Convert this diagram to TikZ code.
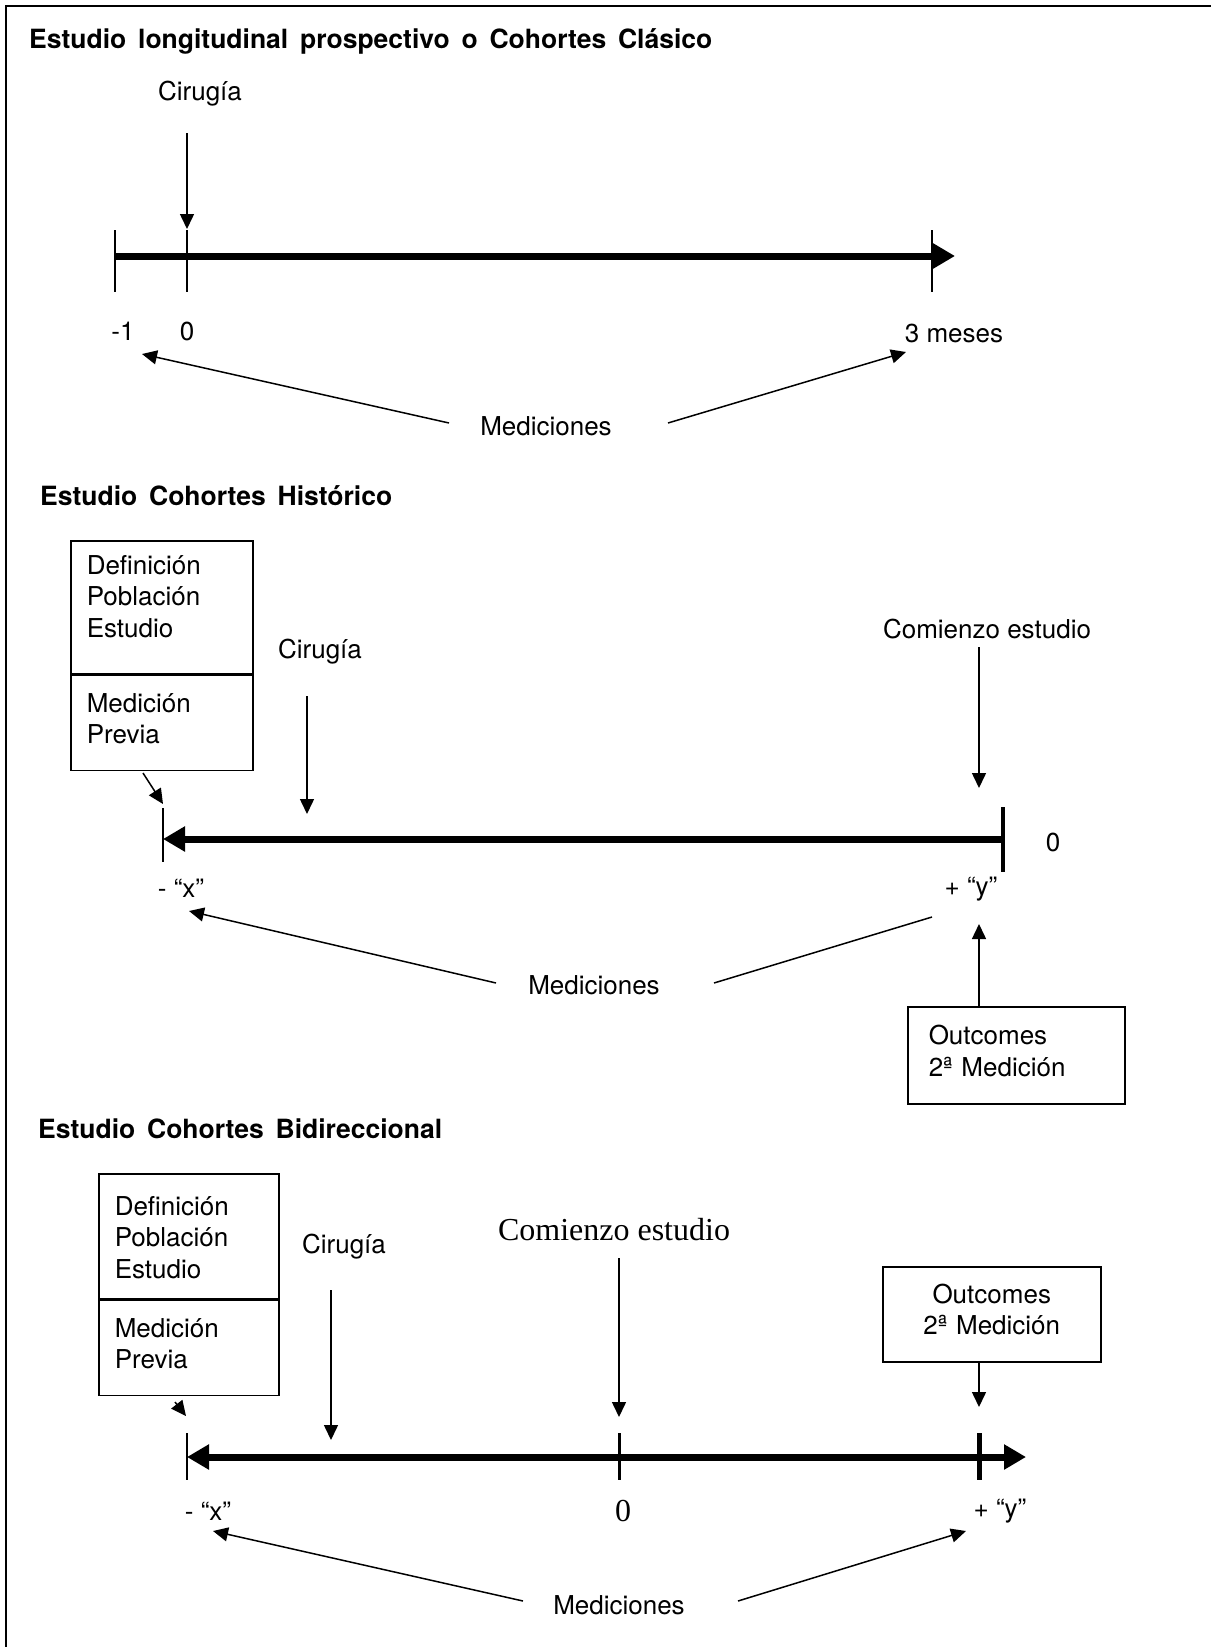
\documentclass[tikz,border=0pt]{standalone}
\usepackage{fontspec}
\setmainfont{TeX Gyre Heros}
\newfontfamily\timesfont{Liberation Serif}
\newfontfamily\titlefont[WordSpace=1.6]{TeX Gyre Heros}
\usetikzlibrary{arrows.meta,positioning}

\begin{document}
\begin{tikzpicture}[x=1pt, y=-1pt,
   every node/.style={font=\fontsize{26}{31.5}\selectfont, inner sep=0pt},
   title/.style={font=\titlefont\fontsize{26.5}{30}\selectfont\bfseries, anchor=west},
   serif/.style={font=\fontsize{32}{38}\selectfont\timesfont},
   thin/.style={line width=1.5pt, -{Triangle[length=15pt,width=14pt]}},
   axis/.style={line width=7pt},
   bighead/.tip={Triangle[length=22pt,width=24pt]},
   tick/.style={line width=1.5pt},
   partbox/.style={draw, line width=1.5pt, text width=150pt, align=left,
      inner xsep=16pt, inner ysep=13pt, anchor=north west},
   outbox/.style={draw, line width=1.5pt, inner xsep=21pt, inner ysep=13pt,
      anchor=north west, text width=175pt}]
   \useasboundingbox (0,0) rectangle (1211,1647);
   \draw[line width=2pt] (6,1647) -- (6,6) -- (1211,6);

   % clasico
   \node[title] (ti_1) at (29,41) {Estudio longitudinal prospectivo o Cohortes Clásico};
   \node (cir_1) at (200,94) {Cirugía};
   \coordinate (a_1) at (115,256);
   \coordinate (b_1) at (955,256);
   \draw[axis, -bighead] (a_1) -- (b_1);
   \foreach \x in {115,187,932} \draw[tick] (\x,230) -- (\x,292);
   \coordinate (c_1) at (187,133);
   \coordinate (d_1) at (187,229);
   \draw[thin] (c_1) -- (d_1);
   \node (m_1) at (123,331) {-1};
   \node (z_1) at (187,331) {0};
   \node (e_1) at (954,333) {3 meses};
   \node (med_1) at (546,426) {Mediciones};
   \coordinate (p_1) at (449,423);
   \coordinate (q_1) at (142,354);
   \coordinate (r_1) at (668,423);
   \coordinate (s_1) at (906,352);
   \draw[thin] (p_1) -- (q_1);
   \draw[thin] (r_1) -- (s_1);

   % historico
   \node[title] (ti_2) at (40,496) {Estudio Cohortes Histórico};
   \node[partbox, text height=20.5pt, text depth=86.5pt] (def_2) at (70,540) {Definición\\Población\\Estudio};
   \node[partbox, text height=24pt, text depth=45pt, below=0pt of def_2.south west, anchor=north west] (pre_2) {Medición\\Previa};
   \node (cir_2) at (320,652) {Cirugía};
   \node (com_2) at (987,629) {Comienzo estudio};
   \coordinate (a_2) at (1003,839);
   \coordinate (b_2) at (163,839);
   \draw[axis, -bighead] (a_2) -- (b_2);
   \draw[tick] (163,808) -- (163,862);
   \draw[line width=4pt] (1003,807) -- (1003,872);
   \coordinate (c_2) at (307,696);
   \coordinate (d_2) at (307,814);
   \draw[thin] (c_2) -- (d_2);
   \coordinate (f_2) at (979,647);
   \coordinate (g_2) at (979,788);
   \draw[thin] (f_2) -- (g_2);
   \coordinate (h_2) at (143,773);
   \coordinate (i_2) at (163,804);
   \draw[thin] (h_2) -- (i_2);
   \node (z_2) at (1053,842) {0};
   \node (x_2) at (181,888) {- “x”};
   \node (y_2) at (971,889) {+ “y”};
   \node (med_2) at (594,985) {Mediciones};
   \coordinate (p_2) at (496,983);
   \coordinate (q_2) at (189,911);
   \coordinate (r_2) at (714,983);
   \coordinate (s_2) at (932,917);
   \draw[thin] (p_2) -- (q_2);
   \draw[line width=1.5pt] (r_2) -- (s_2);
   \node[outbox, align=left, text height=25pt, text depth=46pt] (out_2) at (907,1006) {Outcomes\\2ª Medición};
   \coordinate (u_2) at (979,924);
   \draw[thin] (out_2.north -| u_2) -- (u_2);

   % bidireccional
   \node[title] (ti_3) at (38,1129) {Estudio Cohortes Bidireccional};
   \node[partbox, text width=148pt, text height=28.5pt, text depth=70.5pt] (def_3) at (98,1173) {Definición\\Población\\Estudio};
   \node[partbox, text width=148pt, text height=24pt, text depth=45pt, below=0pt of def_3.south west, anchor=north west] (pre_3) {Medición\\Previa};
   \node (cir_3) at (344,1247) {Cirugía};
   \node[serif] (com_3) at (614,1230) {Comienzo estudio};
   \coordinate (a_3) at (187,1457);
   \coordinate (b_3) at (1026,1457);
   \draw[axis, bighead-bighead] (a_3) -- (b_3);
   \draw[tick] (187,1433) -- (187,1480);
   \draw[line width=3pt] (619,1433) -- (619,1480);
   \draw[line width=5pt] (979,1433) -- (979,1480);
   \coordinate (h_3) at (175,1402);
   \coordinate (i_3) at (186,1416);
   \draw[thin] (h_3) -- (i_3);
   \coordinate (c_3) at (331,1290);
   \coordinate (d_3) at (331,1440);
   \draw[thin] (c_3) -- (d_3);
   \coordinate (f_3) at (619,1258);
   \coordinate (g_3) at (619,1417);
   \draw[thin] (f_3) -- (g_3);
   \node[outbox, align=center, text width=176pt, text height=23.5pt, text depth=45.5pt] (out_3) at (882,1266) {Outcomes\\2ª Medición};
   \coordinate (u_3) at (979,1407);
   \draw[thin] (out_3.south -| u_3) -- (u_3);
   \node (x_3) at (208,1511) {- “x”};
   \node[serif] (z_3) at (623,1511) {0};
   \node (y_3) at (1000,1511) {+ “y”};
   \node (med_3) at (619,1605) {Mediciones};
   \coordinate (p_3) at (523,1601);
   \coordinate (q_3) at (213,1531);
   \coordinate (r_3) at (738,1601);
   \coordinate (s_3) at (966,1531);
   \draw[thin] (p_3) -- (q_3);
   \draw[thin] (r_3) -- (s_3);
\end{tikzpicture}
\end{document}
